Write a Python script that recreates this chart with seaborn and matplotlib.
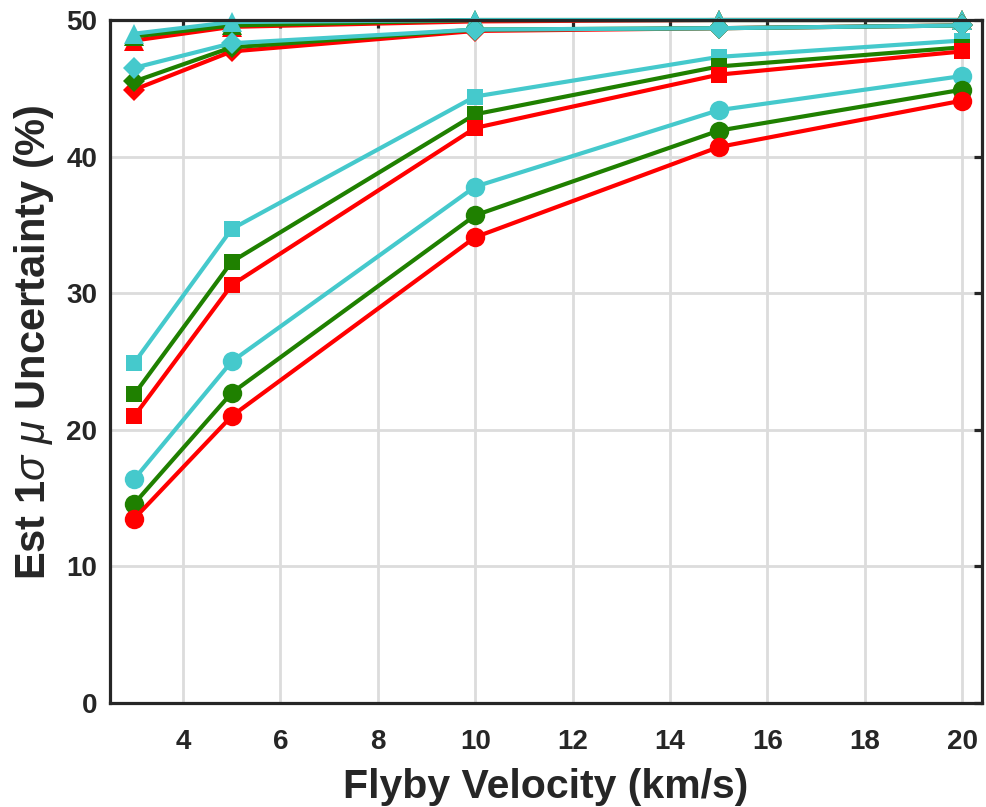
import numpy as np
import pandas as pd
import matplotlib
matplotlib.use("Agg")
import matplotlib.pyplot as plt
import seaborn as sns

velocity = [3, 5, 10, 15, 20]
groups = ["A", "B", "C"]  # red, green, cyan
marker_kinds = ["circle", "square", "diamond", "triangle"]

circle_red = [13.5, 21.0, 34.1, 40.7, 44.1]
circle_green = [14.6, 22.7, 35.7, 41.9, 44.9]
circle_cyan = [16.4, 25.0, 37.8, 43.4, 45.9]
square_red = [21.0, 30.6, 42.1, 46.0, 47.7]
square_green = [22.6, 32.3, 43.1, 46.6, 48.0]
square_cyan = [24.9, 34.7, 44.4, 47.3, 48.5]
diamond_red = [44.9, 47.7, 49.2, 49.4, 49.6]
diamond_green = [45.5, 48.0, 49.3, 49.4, 49.6]
diamond_cyan = [46.5, 48.3, 49.3, 49.4, 49.6]
triangle_red = [48.5, 49.5, 49.9, 50.0, 50.0]
triangle_green = [48.8, 49.6, 50.0, 50.0, 50.0]
triangle_cyan = [49.0, 49.85, 50.0, 50.0, 50.0]

series = {
    ("circle", "A"): circle_red, ("circle", "B"): circle_green, ("circle", "C"): circle_cyan,
    ("square", "A"): square_red, ("square", "B"): square_green, ("square", "C"): square_cyan,
    ("diamond", "A"): diamond_red, ("diamond", "B"): diamond_green, ("diamond", "C"): diamond_cyan,
    ("triangle", "A"): triangle_red, ("triangle", "B"): triangle_green, ("triangle", "C"): triangle_cyan,
}

colors = {"A": "#ff0000", "B": "#1f8000", "C": "#45c9cc"}
markers = {"circle": "o", "square": "s", "diamond": "D", "triangle": "^"}
msizes = {"circle": 14, "square": 11.5, "diamond": 11.5, "triangle": 15}
# drawing order (lowest first) per marker type
orders = {"circle": ["C", "B", "A"], "square": ["C", "B", "A"],
          "diamond": ["A", "B", "C"], "triangle": ["A", "B", "C"]}

sns.set_style("white")
plt.rcParams["font.family"] = ["Liberation Sans", "DejaVu Sans"]
plt.rcParams["mathtext.fontset"] = "custom"
plt.rcParams["mathtext.it"] = "Liberation Sans:italic"
plt.rcParams["mathtext.rm"] = "Liberation Sans:bold"

fig = plt.figure(figsize=(9.87, 8.07), dpi=100)
ax = fig.add_axes([0.1114, 0.1289, 0.8832, 0.8463])

xticks = [4, 6, 8, 10, 12, 14, 16, 18, 20]
yticks = [0, 10, 20, 30, 40, 50]
for xt in xticks:
    ax.axvline(xt, color="#dcdcdc", lw=2, zorder=0.5)
for yt in yticks:
    ax.axhline(yt, color="#dcdcdc", lw=2, zorder=0.5)

z = 2.0
for mk in ["triangle", "diamond", "square", "circle"]:
    for g in orders[mk]:
        df = pd.DataFrame({"v": velocity, "u": series[(mk, g)]})
        sns.lineplot(data=df, x="v", y="u", ax=ax, color=colors[g], lw=3,
                     marker=markers[mk], markersize=msizes[mk], markeredgewidth=0,
                     clip_on=False, zorder=z)
        z += 0.01

ax.set_xlim(2.5, 20.4)
ax.set_ylim(0, 50)
ax.set_xticks(xticks)
ax.set_yticks(yticks)
ax.grid(False)
for s in ax.spines.values():
    s.set_visible(True)
    s.set_color("#262626")
    s.set_linewidth(2.3)
    s.set_zorder(2.6)
ax.tick_params(direction="in", length=6, width=2.3, color="#262626",
               top=True, right=True, labelsize=20)
ax.tick_params(axis="x", pad=19)
ax.tick_params(axis="y", pad=9)
for lab in ax.get_xticklabels() + ax.get_yticklabels():
    lab.set_fontweight("bold")
    lab.set_color("#262626")
ax.set_xlabel("Flyby Velocity (km/s)", fontsize=29.5, fontweight="bold",
              color="#262626", labelpad=9)
ax.set_ylabel("Est 1$\\sigma$ $\\mu$ Uncertainty (%)", fontsize=30, fontweight="bold",
              color="#262626")
ax.yaxis.set_label_coords(-0.062, 0.528)
fig.savefig("out.png", dpi=100)
